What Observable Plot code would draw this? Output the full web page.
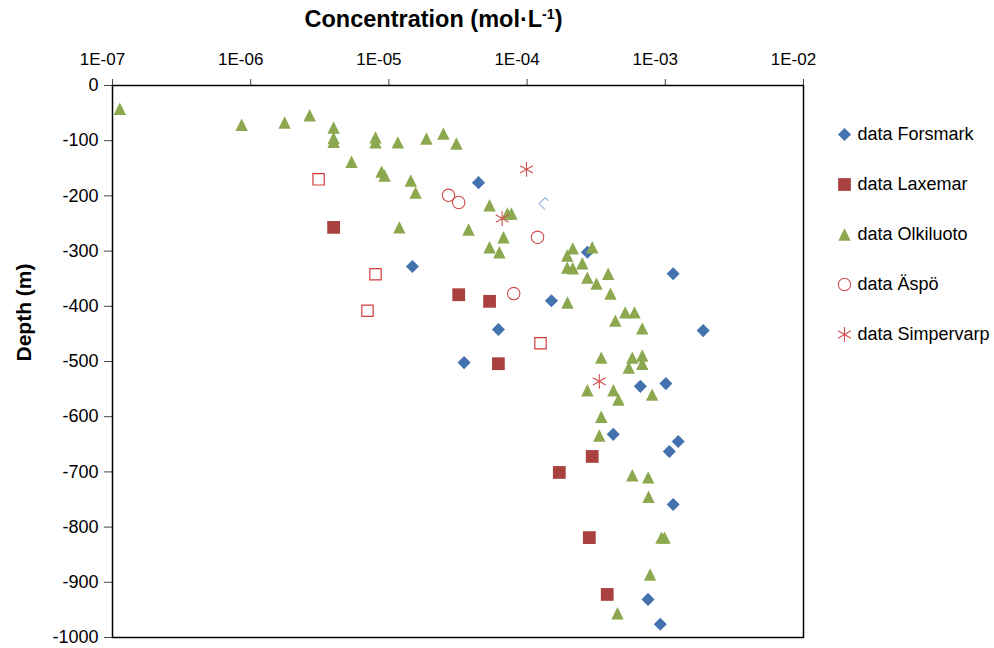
<!DOCTYPE html>
<html>
<head>
<meta charset="utf-8">
<script src="https://cdn.jsdelivr.net/npm/d3@7"></script>
<script src="https://cdn.jsdelivr.net/npm/@observablehq/plot@0.6"></script>
<style>
  body { margin: 0; background: #fff; font-family: "Liberation Sans", Arial, sans-serif; }
  #wrap { position: relative; width: 994px; height: 648px; overflow: hidden; background: #fff; }
  #chart { position: absolute; left: 0; top: 0; }
  #title { position: absolute; left: 0; width: 867px; top: 8px; text-align: center; font-weight: bold; font-size: 23.5px; line-height: 1; color: #000; white-space: nowrap; }
  #title sup { font-size: 0.6em; vertical-align: 0.6em; line-height: 0; }
  #legend { position: absolute; left: 820px; top: 100px; }
</style>
</head>
<body>
<div id="wrap">
  <div id="chart"></div>
  <div id="title">Concentration (mol·L<sup>-1</sup>)</div>
  <div id="legend"></div>
</div>
<script>
// ---- axis ticks ----
const xTicks = [1e-7, 1e-6, 1e-5, 1e-4, 1e-3, 1e-2];
const xTickLabels = ["1E-07", "1E-06", "1E-05", "1E-04", "1E-03", "1E-02"];
const yTicks = [0, -100, -200, -300, -400, -500, -600, -700, -800, -900, -1000];
const yTickLabels = ["0", "-100", "-200", "-300", "-400", "-500", "-600", "-700", "-800", "-900", "-1000"];

// ---- series names ----
const seriesNames = ["data Forsmark", "data Laxemar", "data Olkiluoto", "data Äspö", "data Simpervarp"];

// ---- data Forsmark ----
const forsmarkConc  = [4.45e-5, 1.48e-5, 2.73e-4, 1.14e-3, 1.50e-4, 6.2e-5, 1.88e-3, 3.5e-5, 6.6e-4, 1.01e-3, 4.2e-4, 1.24e-3, 1.07e-3, 1.14e-3, 7.5e-4, 9.2e-4];
const forsmarkDepth = [-176, -328, -302, -341, -390, -442, -444, -502, -545, -540, -632, -645, -663, -759, -931, -976];
// open Forsmark marker (partly drawn)
const forsmarkOpenConc  = [1.35e-4];
const forsmarkOpenDepth = [-214];

// ---- data Laxemar ----
const laxemarConc  = [3.98e-6, 3.2e-5, 5.35e-5, 6.2e-5, 2.96e-4, 1.71e-4, 2.82e-4, 3.8e-4];
const laxemarDepth = [-257, -379, -391, -504, -672, -701, -819, -922];
// open squares (not in legend)
const openSquareConc  = [3.1e-6, 8.0e-6, 7.0e-6, 1.25e-4];
const openSquareDepth = [-170, -342, -408, -467];

// ---- data Olkiluoto ----
const olkiluotoConc = [
  1.13e-7, 8.6e-7, 1.76e-6, 2.67e-6, 3.98e-6, 3.98e-6, 3.98e-6, 5.37e-6, 8.0e-6, 8.0e-6,
  1.16e-5, 1.87e-5, 2.48e-5, 3.08e-5, 8.85e-6, 9.3e-6, 1.44e-5, 1.56e-5, 1.19e-5, 3.77e-5,
  5.35e-5, 7.2e-5, 7.7e-5, 6.75e-5, 5.35e-5, 6.3e-5, 1.95e-4, 2.14e-4, 2.96e-4, 1.95e-4,
  2.14e-4, 2.51e-4, 2.73e-4, 3.18e-4, 3.86e-4, 4.01e-4, 1.96e-4, 5.13e-4, 5.99e-4, 4.35e-4,
  6.81e-4, 3.44e-4, 5.77e-4, 6.81e-4, 5.44e-4, 6.81e-4, 2.73e-4, 4.21e-4, 4.58e-4, 8.03e-4,
  3.44e-4, 3.33e-4, 5.77e-4, 7.52e-4, 7.56e-4, 9.38e-4, 9.87e-4, 7.76e-4, 4.51e-4
];
const olkiluotoDepth = [
  -42, -71, -67, -54, -76, -95, -102, -138, -94, -103,
  -103, -96, -87, -105, -156, -163, -172, -194, -257, -261,
  -217, -232, -232, -275, -293, -302, -308, -295, -293, -330,
  -331, -322, -348, -359, -341, -377, -393, -411, -411, -426,
  -440, -493, -493, -489, -511, -504, -552, -552, -569, -560,
  -600, -634, -706, -710, -745, -819, -819, -886, -956
];

// ---- data Äspö ----
const aspoConc  = [2.7e-5, 3.2e-5, 1.19e-4, 8.0e-5];
const aspoDepth = [-199, -212, -275, -377];

// ---- data Simpervarp ----
const simpervarpConc  = [9.9e-5, 6.6e-5, 3.33e-4];
const simpervarpDepth = [-152, -241, -536];

// ---- build tables ----
const rows = (conc, depth) => conc.map((c, i) => ({conc: c, depth: depth[i]}));
const forsmark = rows(forsmarkConc, forsmarkDepth);
const forsmarkOpen = rows(forsmarkOpenConc, forsmarkOpenDepth);
const laxemar = rows(laxemarConc, laxemarDepth);
const openSquares = rows(openSquareConc, openSquareDepth);
const olkiluoto = rows(olkiluotoConc, olkiluotoDepth);
const aspo = rows(aspoConc, aspoDepth);
const simpervarp = rows(simpervarpConc, simpervarpDepth);

// ---- custom symbols ----
const triSym = {draw(ctx, size) { const h = Math.sqrt(size / Math.PI); ctx.moveTo(0, -h); ctx.lineTo(h, h); ctx.lineTo(-h, h); ctx.closePath(); }};
const chevronSym = {draw(ctx, size) { const h = Math.sqrt(size / Math.PI); ctx.moveTo(h * 0.55, -h * 0.45); ctx.lineTo(0, -h); ctx.lineTo(-h, 0); ctx.lineTo(0, h); }};

const C = {
  forsmark: "#4472AE",
  laxemar: "#A9423F",
  olkiluoto: "#8BA84E",
  aspo: "#CF4D4D",
  simpervarp: "#D24F4F",
  openSq: "#D23B3B",
  chevron: "#5B8BC8"
};

const styles = {
  forsmark:   {symbol: "diamond2", r: 5.9, fill: C.forsmark, stroke: "none"},
  laxemar:    {symbol: "square", r: 7.2, fill: C.laxemar, stroke: "none"},
  olkiluoto:  {symbol: triSym, r: 6.2, fill: C.olkiluoto, stroke: "none"},
  aspo:       {symbol: "circle", r: 6.2, fill: "none", stroke: C.aspo, strokeWidth: 1.1},
  simpervarp: {symbol: "asterisk", r: 7, fill: "none", stroke: C.simpervarp, strokeWidth: 1.1}
};

const fontFamily = '"Liberation Sans", Arial, sans-serif';

const chart = Plot.plot({
  width: 994,
  height: 648,
  marginLeft: 112,
  marginRight: 191,
  marginTop: 85,
  marginBottom: 11,
  style: {fontFamily, fontSize: "17px", color: "#000", background: "transparent", overflow: "visible"},
  x: {type: "log", domain: [1e-7, 1e-2], axis: null},
  y: {domain: [-1000, 0], axis: null},
  marks: [
    Plot.axisX(xTicks, {anchor: "top", tickSize: 7, fill: "none", stroke: "#444", label: null}),
    Plot.axisX(xTicks, {anchor: "top", tickSize: 0, tickPadding: 21, fontSize: 17, dx: -10, fill: "#000", label: null,
      tickFormat: d => xTickLabels[xTicks.indexOf(d)]}),
    Plot.axisY(yTicks, {anchor: "left", tickSize: 8, tickPadding: 6, fontSize: 18, fill: "#000", stroke: "#444", label: null,
      tickFormat: d => yTickLabels[yTicks.indexOf(d)]}),
    Plot.frame({stroke: "#000", strokeWidth: 1.5}),
    Plot.text(["Depth (m)"], {frameAnchor: "left", text: d => d, rotate: -90, dx: -88, fontSize: 21, fontWeight: "bold", fill: "#000"}),
    Plot.dot(forsmark, {x: "conc", y: "depth", ...styles.forsmark}),
    Plot.dot(forsmarkOpen, {x: "conc", y: "depth", symbol: chevronSym, r: 6, fill: "none", stroke: C.chevron, strokeWidth: 1}),
    Plot.dot(laxemar, {x: "conc", y: "depth", ...styles.laxemar}),
    Plot.dot(openSquares, {x: "conc", y: "depth", symbol: "square2", r: 7.2, fill: "none", stroke: C.openSq, strokeWidth: 1.2}),
    Plot.dot(olkiluoto, {x: "conc", y: "depth", ...styles.olkiluoto}),
    Plot.dot(aspo, {x: "conc", y: "depth", ...styles.aspo}),
    Plot.dot(simpervarp, {x: "conc", y: "depth", ...styles.simpervarp})
  ]
});
document.getElementById("chart").appendChild(chart);

// ---- legend ----
const legendStyles = [styles.forsmark, styles.laxemar, styles.olkiluoto, styles.aspo, styles.simpervarp];
const legend = Plot.plot({
  width: 174,
  height: 260,
  margin: 0,
  style: {fontFamily, fontSize: "18px", color: "#000", background: "transparent", overflow: "visible"},
  x: {domain: [0, 1], range: [24, 174], axis: null},
  y: {type: "point", domain: seriesNames, range: [33, 235], padding: 0, axis: null},
  marks: [
    ...seriesNames.map((name, i) => Plot.dot([name], {x: 0, y: d => d, ...legendStyles[i]})),
    Plot.text(seriesNames, {x: 0, y: d => d, text: d => d, dx: 13, textAnchor: "start", fontSize: 18, fill: "#000"})
  ]
});
document.getElementById("legend").appendChild(legend);
</script>
</body>
</html>
